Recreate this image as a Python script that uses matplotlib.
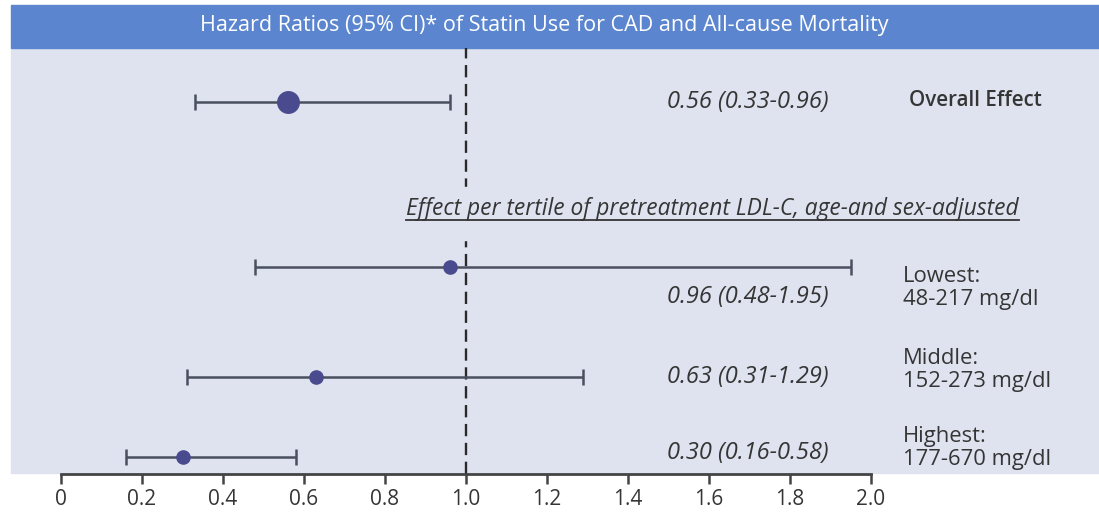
import matplotlib.pyplot as plt
from matplotlib.patches import Rectangle
from matplotlib.lines import Line2D

plt.rcParams['font.family'] = ['Open Sans', 'DejaVu Sans']

# hazard ratios with 95% CI
groups = ["Overall Effect", "Lowest:\n48-217 mg/dl", "Middle:\n152-273 mg/dl", "Highest:\n177-670 mg/dl"]
hr = [0.56, 0.96, 0.63, 0.30]
ci_low = [0.33, 0.48, 0.31, 0.16]
ci_high = [0.96, 1.95, 1.29, 0.58]
xticks = [0, 0.2, 0.4, 0.6, 0.8, 1.0, 1.2, 1.4, 1.6, 1.8, 2.0]
xtick_labels = ["0", "0.2", "0.4", "0.6", "0.8", "1.0", "1.2", "1.4", "1.6", "1.8", "2.0"]

W, H = 1099, 522
row_y = [102, 267, 377, 457]          # vertical position of each row (pixels from top)
label_y = [102, 297, 377, 453]        # HR text positions
group_y = [101, 288, 370, 448]

panel_col = "#dee3ef"
header_col = "#5b86cf"
ink = "#353535"
bar_col = "#4b5060"
dot_col = "#4a4a8e"


def fx(px):
    return px / W


def fy(py):
    return 1 - py / H


fig = plt.figure(figsize=(W / 100, H / 100), dpi=100)
fig.patches.append(Rectangle((fx(11), fy(473)), fx(W) - fx(11), fy(48) - fy(473),
                             transform=fig.transFigure, color=panel_col, zorder=-2))
fig.patches.append(Rectangle((fx(11), fy(48)), fx(W) - fx(11), fy(5) - fy(48),
                             transform=fig.transFigure, color=header_col, zorder=-2))
fig.text(fx(544), fy(26), "Hazard Ratios (95% CI)* of Statin Use for CAD and All-cause Mortality",
         color="white", fontsize=15.5, ha="center", va="center")

ax = fig.add_axes([fx(61), fy(474), fx(871) - fx(61), fy(48) - fy(474)])
ax.set_zorder(1)
ax.patch.set_visible(False)
ax.set_xlim(0, 2)
ax.set_ylim(474, 48)
for s in ["top", "left", "right"]:
    ax.spines[s].set_visible(False)
ax.spines["bottom"].set_color("#444444")
ax.spines["bottom"].set_linewidth(2)
ax.set_yticks([])
ax.set_xticks(xticks)
ax.set_xticklabels(xtick_labels)
ax.tick_params(axis="x", direction="out", length=7, width=1.8, color="#444444",
               labelsize=15, labelcolor=ink, pad=4)

ax.axvline(1.0, color="#2a2a2a", lw=1.7, ls=(0, (5.2, 2.8)), zorder=1)

for i in range(len(hr)):
    ms = 15.5 if i == 0 else 9.5
    ax.errorbar(hr[i], row_y[i],
                xerr=[[hr[i] - ci_low[i]], [ci_high[i] - hr[i]]],
                fmt="o", color=bar_col, ecolor=bar_col, elinewidth=1.8,
                capsize=6, capthick=1.8, ms=ms, mfc=dot_col, mec=dot_col, zorder=3)
    fig.text(fx(667), fy(label_y[i]), f"{hr[i]:.2f} ({ci_low[i]:.2f}-{ci_high[i]:.2f})",
             fontsize=17, style="italic", color=ink, ha="left", va="center")
    if i == 0:
        fig.text(fx(909), fy(group_y[i]), groups[i], fontsize=14.8, weight="semibold",
                 color=ink, ha="left", va="center")
    else:
        fig.text(fx(903), fy(group_y[i]), groups[i], fontsize=15.8, color=ink,
                 ha="left", va="center", linespacing=1.1)

sub = fig.text(fx(1019), fy(209), "Effect per tertile of pretreatment LDL-C, age-and sex-adjusted",
               fontsize=16.4, style="italic", color=ink, ha="right", va="center", zorder=6)
fig.canvas.draw()
bb = sub.get_window_extent().transformed(fig.transFigure.inverted())
# underline, and a panel-coloured strip so the dashed line breaks behind the subheading
fig.add_artist(Line2D([bb.x0, bb.x1], [bb.y0 + 0.002, bb.y0 + 0.002],
                      transform=fig.transFigure, color=ink, lw=1.3, zorder=6))
fig.add_artist(Rectangle((bb.x0 - fx(4), fy(240)), bb.width + fx(8), fy(187) - fy(240),
                         transform=fig.transFigure, color=panel_col, zorder=5))

fig.savefig("out.png", dpi=100)
